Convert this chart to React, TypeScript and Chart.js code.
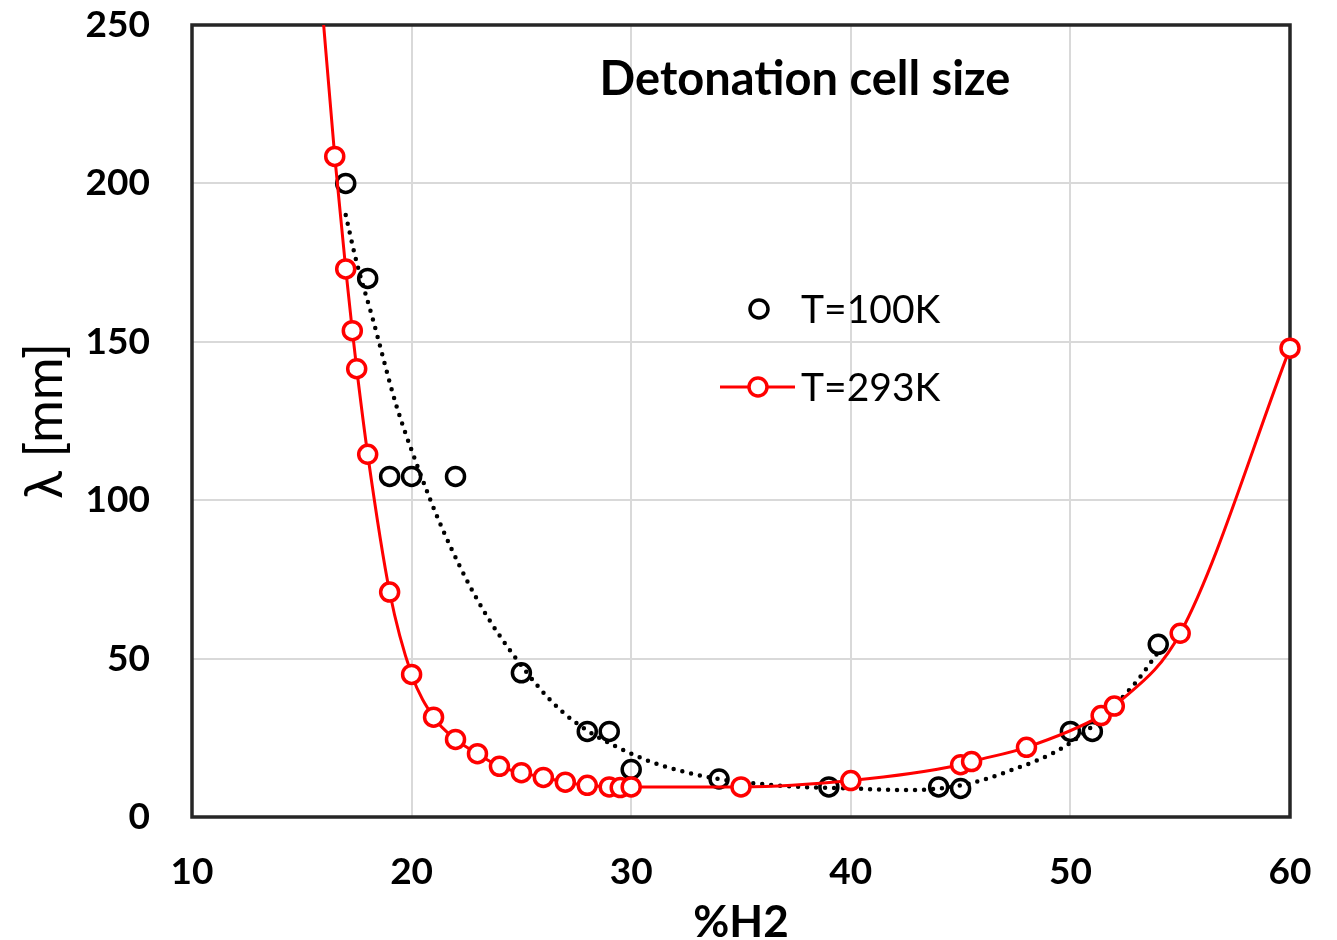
import React, { useEffect, useRef } from "react";
import { Chart, registerables } from "chart.js";

Chart.register(...registerables);

// T = 100 K measured cell sizes
const h2_100K = [17, 18, 19, 20, 22, 25, 28, 29, 30, 34, 39, 44, 45, 50, 51, 54];
const cell_100K = [200, 170, 107.5, 107.5, 107.5, 45.5, 27, 27, 15, 12, 9.5, 9.5, 9, 27, 27, 54.5];

// T = 100 K trend line (dotted)
const trendX = [17, 17.5, 18.2, 19.3, 20.2, 21.4, 23, 24.8, 26.9, 30, 33, 36.6, 40, 42.6, 45, 47, 50, 52.8, 54];
const trendY = [190, 175, 158, 130, 112, 91, 68.5, 49.6, 33, 20, 13.3, 10, 9, 8.5, 10, 14, 23.4, 41, 52];

// T = 293 K cell sizes
const h2_293K = [15.9, 16.5, 17, 17.3, 17.5, 18, 19, 20, 21, 22, 23, 24, 25, 26, 27, 28, 29, 29.5, 30, 35, 40, 45, 45.5, 48, 51.4, 52, 55, 60];
const cell_293K = [258, 208.5, 173, 153.5, 141.5, 114.5, 71, 45, 31.5, 24.5, 20, 16, 14, 12.5, 11, 10, 9.5, 9.3, 9.5, 9.5, 11.5, 16.5, 17.5, 22, 32, 35, 58, 148];

const xMin = 10, xMax = 60, xStep = 10;
const yMin = 0, yMax = 250, yStep = 50;

const chartTitle = "Detonation cell size";
const xTitle = "%H2";
const yTitle = "λ [mm]";
const legendLabels = ["T=100K", "T=293K"];

const RED = "#ff0000";
const R = 9;
const BW = 3.5;

const toXY = (xs: number[], ys: number[]) => xs.map((x, i) => ({ x, y: ys[i] }));

export default function App() {
  const ref = useRef<HTMLCanvasElement | null>(null);

  useEffect(() => {
    if (!ref.current) return;

    const overlay = {
      id: "overlay",
      beforeDatasetsDraw(chart: any) {
        const { ctx, chartArea: a } = chart;
        ctx.save();
        ctx.strokeStyle = "#262626";
        ctx.lineWidth = 3.5;
        ctx.strokeRect(a.left, a.top, a.right - a.left, a.bottom - a.top);
        ctx.restore();
      },
      afterDraw(chart: any) {
        const { ctx } = chart;
        ctx.save();
        // title
        ctx.fillStyle = "#000";
        ctx.font = "bold 47px Lato";
        ctx.textAlign = "center";
        ctx.textBaseline = "middle";
        ctx.fillText(chartTitle, 805, 80);
        // legend
        ctx.font = "39px Lato";
        ctx.textAlign = "left";
        // 100K
        ctx.lineWidth = BW;
        ctx.strokeStyle = "#000";
        ctx.beginPath();
        ctx.arc(759, 309, R, 0, Math.PI * 2);
        ctx.stroke();
        ctx.fillText(legendLabels[0], 801, 310);
        // 293K
        ctx.strokeStyle = RED;
        ctx.lineWidth = 3;
        ctx.beginPath();
        ctx.moveTo(720, 387);
        ctx.lineTo(795, 387);
        ctx.stroke();
        ctx.lineWidth = BW;
        ctx.fillStyle = "#fff";
        ctx.beginPath();
        ctx.arc(758, 387, R, 0, Math.PI * 2);
        ctx.fill();
        ctx.stroke();
        ctx.fillStyle = "#000";
        ctx.fillText(legendLabels[1], 801, 388);
        ctx.restore();
      },
    };

    const chart = new Chart(ref.current, {
      type: "scatter",
      data: {
        datasets: [
          {
            label: legendLabels[1],
            data: toXY(h2_293K, cell_293K),
            showLine: true,
            borderColor: RED,
            borderWidth: 3,
            cubicInterpolationMode: "monotone",
            pointRadius: (c: any) => ((c.raw && c.raw.y > yMax) ? 0 : R),
            pointBorderWidth: BW,
            pointBorderColor: RED,
            pointBackgroundColor: "#fff",
            clip: { left: false, right: false, bottom: false, top: 0 } as any,
            order: 0,
          },
          {
            label: legendLabels[0],
            data: toXY(h2_100K, cell_100K),
            showLine: false,
            pointRadius: R,
            pointBorderWidth: BW,
            pointBorderColor: "#000",
            pointBackgroundColor: "rgba(0,0,0,0)",
            clip: false as any,
            order: 1,
          },
          {
            label: "trend",
            data: toXY(trendX, trendY),
            showLine: true,
            pointRadius: 0,
            borderColor: "#000",
            borderWidth: 4.5,
            borderDash: [0, 9],
            borderCapStyle: "round",
            cubicInterpolationMode: "monotone",
            order: 2,
          } as any,
        ],
      },
      options: {
        responsive: false,
        animation: false,
        layout: { padding: { top: 25, right: 47, left: 0, bottom: 0 } },
        plugins: { legend: { display: false }, tooltip: { enabled: false }, title: { display: false } },
        scales: {
          x: {
            type: "linear",
            min: xMin,
            max: xMax,
            afterFit: (s: any) => { s.height = 940 - 817; s.paddingLeft = 0; s.paddingRight = 0; },
            ticks: { stepSize: xStep, color: "#000", font: { family: "Lato", weight: "bold", size: 37 }, padding: 33 },
            grid: { color: "#d9d9d9", lineWidth: 2, drawTicks: false },
            border: { display: false },
            title: { display: true, text: xTitle, color: "#000", font: { family: "Lato", weight: "bold", size: 44, lineHeight: 0.8 }, padding: 0 },
          },
          y: {
            type: "linear",
            min: yMin,
            max: yMax,
            afterFit: (s: any) => { s.width = 192; s.paddingTop = 0; s.paddingBottom = 0; },
            ticks: { stepSize: yStep, color: "#000", font: { family: "Lato", weight: "bold", size: 37 }, padding: 42 },
            grid: { color: "#d9d9d9", lineWidth: 2, drawTicks: false },
            border: { display: false },
            title: { display: true, text: yTitle, color: "#000", font: { family: "Lato", size: 52, lineHeight: 1.2 }, padding: { top: 14, bottom: 0 } },
          },
        },
      } as any,
      plugins: [overlay],
    });

    return () => chart.destroy();
  }, []);

  return (
    <div style={{ position: "absolute", left: 0, top: 0, width: 1337, height: 940, background: "#fff" }}>
      <canvas ref={ref} width={1337} height={940} style={{ width: 1337, height: 940 }} />
    </div>
  );
}
